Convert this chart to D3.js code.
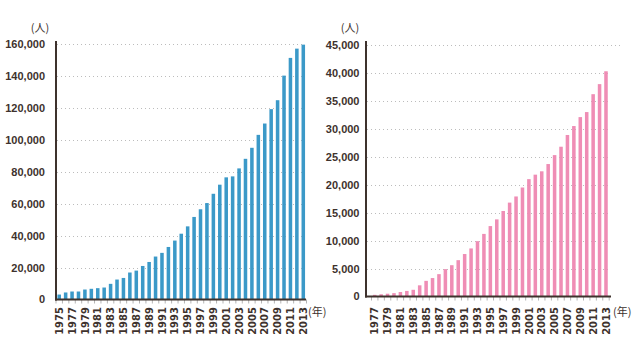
<!DOCTYPE html>
<html><head><meta charset="utf-8">
<script src="https://cdn.jsdelivr.net/npm/d3@7"></script>
<style>body{margin:0;background:#fff}svg{display:block}</style>
</head><body>
<svg id="c" width="639" height="357"></svg>
<script>
const yearsLeft = d3.range(1975, 2014);
const valuesLeft = [3100,4400,5000,5000,6250,6700,7100,7500,9800,12500,13500,16900,18100,21000,23500,26900,29200,32900,36900,41200,45800,51700,56500,60400,66200,71900,76500,77100,82100,88100,95000,103100,110200,119200,124800,140200,151300,157100,159600];
const ticksLeft = [0,20000,40000,60000,80000,100000,120000,140000,160000];

const yearsRight = d3.range(1977, 2014);
const valuesRight = [300,400,500,600,800,1000,1200,2000,2800,3300,4000,4900,5600,6500,7600,8600,9900,11200,12600,13800,15300,16800,17900,19500,21000,21800,22400,23700,25300,26800,28900,30500,32100,33000,36200,38000,40300];
const ticksRight = [0,5000,10000,15000,20000,25000,30000,35000,40000,45000];

const unitY = "(人)", unitX = "(年)";
const svg = d3.select("#c");
const dark = "#3e322d";

function chart(o){
  const g = svg.append("g");
  const x = d3.scaleBand().domain(o.years).range([o.x0, o.x1]).paddingInner(0.45).paddingOuter(0.225);
  const y = d3.scaleLinear().domain([0, o.max]).range([o.yb, o.yt]);
  // grid
  g.selectAll(".grid").data(o.ticks.filter(t=>t>0)).join("line")
    .attr("x1", o.ax+1).attr("x2", (d)=> d===o.max ? o.gxTop : o.gx)
    .attr("y1", d=>Math.round(y(d))+0.5).attr("y2", d=>Math.round(y(d))+0.5)
    .attr("stroke", "#bcbcbc").attr("stroke-width", 1).attr("stroke-dasharray", "1,3");
  // bars
  g.selectAll(".bar").data(o.years).join("rect")
    .attr("x", d=>x(d)).attr("width", x.bandwidth())
    .attr("y", (d,i)=>y(o.values[i])).attr("height", (d,i)=>o.yb - y(o.values[i]))
    .attr("fill", o.color);
  // x small ticks
  const edges = o.years.map(d=>x(d) - x.step()*x.paddingInner()/2);
  edges.push(x(o.years[o.years.length-1]) + x.bandwidth() + x.step()*x.paddingInner()/2);
  g.selectAll(".xt").data(edges).join("line")
    .attr("x1", d=>d).attr("x2", d=>d).attr("y1", o.yb).attr("y2", o.yb+4)
    .attr("stroke", "#b5b5b5").attr("stroke-width", 1);
  // axes lines
  g.append("line").attr("x1", o.ax).attr("x2", o.ax).attr("y1", 41).attr("y2", o.yb+1)
    .attr("stroke", dark).attr("stroke-width", 2);
  g.append("line").attr("x1", o.ax-1).attr("x2", o.axEnd).attr("y1", o.yb).attr("y2", o.yb)
    .attr("stroke", dark).attr("stroke-width", 2);
  // y labels
  g.selectAll(".yl").data(o.ticks).join("text")
    .attr("x", o.lx).attr("y", d=>y(d)).attr("dy", "0.36em")
    .attr("text-anchor", "end").attr("fill", dark)
    .attr("font-family", "Liberation Sans, Arial, sans-serif").attr("font-weight", "bold")
    .attr("font-size", o.yfs).text(d=>d3.format(",")(d));
  // x labels
  g.selectAll(".xl").data(o.years.filter(d=>(d-o.years[0])%2===0)).join("text")
    .attr("transform", d=>`translate(${x(d)+x.bandwidth()/2},307) rotate(-90)`)
    .attr("dy", "0.36em").attr("text-anchor", "end").attr("fill", dark)
    .attr("font-family", "DejaVu Sans, sans-serif").attr("font-weight", "bold")
    .attr("font-size", 10).text(d=>d);
  g.append("text").attr("x", o.ux).attr("y", 32).attr("text-anchor", "middle").attr("fill", dark)
    .attr("font-family", "Noto Sans CJK JP, sans-serif").attr("font-size", 11).text(unitY);
  g.append("text").attr("x", o.nx).attr("y", 316).attr("fill", dark)
    .attr("font-family", "Noto Sans CJK JP, sans-serif").attr("font-size", 11).text(unitX);
}

chart({years: yearsLeft, values: valuesLeft, ticks: ticksLeft, max: 160000,
  x0: 56, x1: 306.5, yb: 299.5, yt: 44, ax: 56, axEnd: 306, gx: 305, gxTop: 305,
  lx: 45, yfs: 11, ux: 40, nx: 308, color: "#3b99c8"});
chart({years: yearsRight, values: valuesRight, ticks: ticksRight, max: 45000,
  x0: 371.5, x1: 609.2, yb: 296.5, yt: 45, ax: 366, axEnd: 611, gx: 610, gxTop: 620,
  lx: 359.5, yfs: 11, ux: 350, nx: 613, color: "#ef8db5"});
</script>
</body></html>
